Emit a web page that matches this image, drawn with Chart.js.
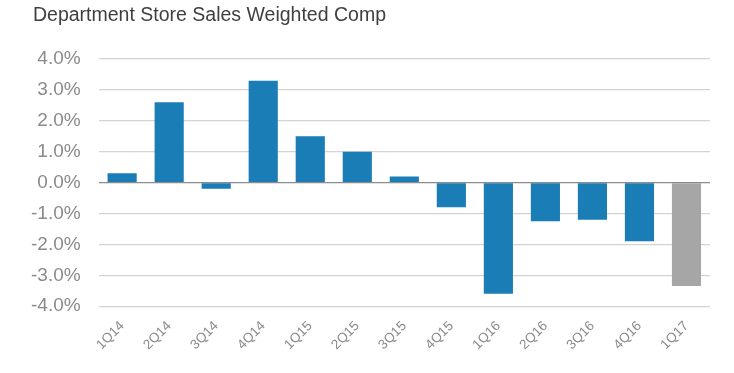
<!DOCTYPE html>
<html><head><meta charset="utf-8">
<script src="https://cdn.jsdelivr.net/npm/chart.js@4"></script>
<style>html,body{margin:0;padding:0;background:#fff}#wrap{width:734px;height:373px}</style>
</head><body><div id="wrap"><canvas id="c"></canvas></div>
<script>
const categories = ['1Q14','2Q14','3Q14','4Q14','1Q15','2Q15','3Q15','4Q15','1Q16','2Q16','3Q16','4Q16','1Q17'];
const comps = [0.3, 2.6, -0.2, 3.3, 1.5, 1.0, 0.2, -0.8, -3.6, -1.25, -1.2, -1.9, -3.35];
const barColors = ['#1b7db6','#1b7db6','#1b7db6','#1b7db6','#1b7db6','#1b7db6','#1b7db6','#1b7db6','#1b7db6','#1b7db6','#1b7db6','#1b7db6','#a6a6a6'];
const title = 'Department Store Sales Weighted Comp';

const titlePlugin = {
  id: 'leftTitle',
  afterDraw(chart) {
    const ctx = chart.ctx;
    ctx.save();
    ctx.font = '19.5px "Liberation Sans", Arial, sans-serif';
    ctx.fillStyle = '#3f3f3f';
    ctx.textAlign = 'left';
    ctx.textBaseline = 'middle';
    ctx.fillText(title, 33, 16);
    ctx.restore();
  }
};

new Chart(document.getElementById('c'), {
  type: 'bar',
  data: { labels: categories, datasets: [{ data: comps, backgroundColor: barColors, barPercentage: 0.62, categoryPercentage: 1.0 }] },
  options: {
    responsive: true, maintainAspectRatio: false, animation: false,
    layout: { padding: { left: 13, right: 24, top: 59, bottom: 16 } },
    plugins: {
      legend: { display: false }, tooltip: { enabled: false }, title: { display: false }
    },
    scales: {
      y: { min: -4, max: 4,
        border: { display: false },
        grid: { drawTicks: false, lineWidth: 1.2, color: ctx => ctx.tick && ctx.tick.value === 0 ? '#8c8c8c' : '#d4d4d4' },
        ticks: { stepSize: 1, padding: 18, color: '#8a8a8a', font: { family: 'Liberation Sans, Arial, sans-serif', size: 19 },
          callback: v => v.toFixed(1) + '%' } },
      x: { border: { display: false }, grid: { display: false },
        ticks: { minRotation: 45, maxRotation: 45, padding: 4, color: '#8a8a8a', font: { family: 'Liberation Sans, Arial, sans-serif', size: 13.5 } } }
    }
  },
  plugins: [titlePlugin]
});
</script></body></html>
